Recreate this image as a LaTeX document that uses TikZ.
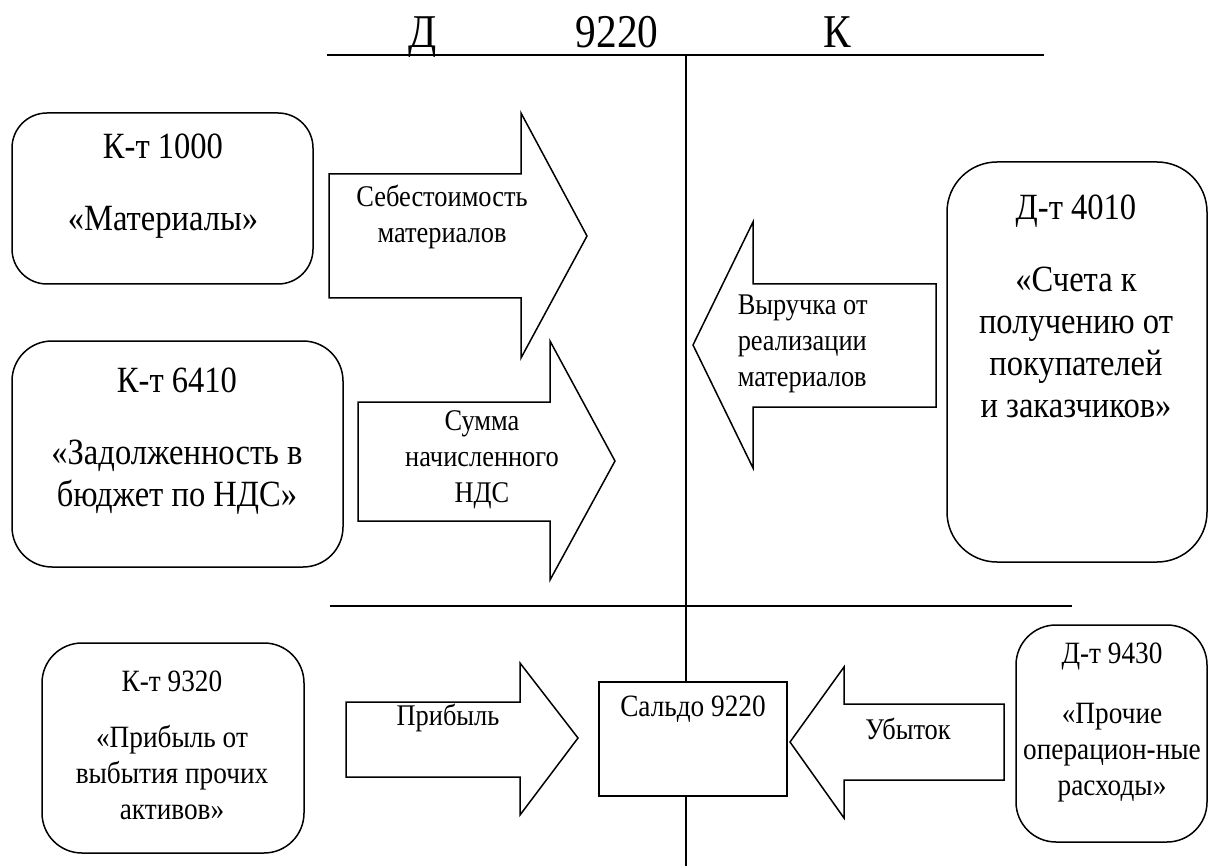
\documentclass[tikz,border=0pt]{standalone}
\usepackage{fontspec}
\setmainfont[FakeStretch=0.88]{Liberation Serif}
\begin{document}
\begin{tikzpicture}[x=1pt,y=-1pt,line width=1.5pt,line join=miter,
  acct/.style={draw,inner sep=0pt,outer sep=0pt},
  bigtxt/.style={align=center,inner sep=0pt,font=\fontsize{37}{42}\selectfont},
  smalltxt/.style={align=center,inner sep=0pt,font=\fontsize{31}{36}\selectfont},
  arrtxt/.style={align=center,inner sep=0pt,font=\fontsize{30}{36}\selectfont},
  headtxt/.style={anchor=base,inner sep=0pt,font=\fontsize{47}{52}\selectfont},
  blockarrow/.style={draw,fill=white}]
\useasboundingbox (0,0) rectangle (1209,866);

% T-account lines
\coordinate (topL) at (327,55);
\coordinate (topR) at (1044,55);
\coordinate (midL) at (330,606);
\coordinate (midR) at (1072,606);
\coordinate (axisTop) at (686,55);
\coordinate (axisBot) at (686,866);
\draw (topL) -- (topR);
\draw (midL) -- (midR);
\draw (axisTop) -- (axisBot);

\node[headtxt] (debit) at (423,48) {Д};
\node[headtxt] (accno) at (617,48) {9220};
\node[headtxt] (credit) at (837,48) {К};

% account boxes
\node[acct,rounded corners=35pt,minimum width=301pt,minimum height=171pt] (k1000) at (162.5,198.5) {};
\node[bigtxt] (k1000t) at (163,186) {К-т 1000\\[30pt]«Материалы»};

\node[acct,rounded corners=40pt,minimum width=331pt,minimum height=226pt] (k6410) at (177.5,454) {};
\node[bigtxt] (k6410t) at (177,441) {К-т 6410\\[30pt]«Задолженность в\\бюджет по НДС»};

\node[acct,rounded corners=50pt,minimum width=260pt,minimum height=400pt] (d4010) at (1077,362) {};
\node[bigtxt] (d4010t) at (1076,306) {Д-т 4010\\[30pt]«Счета к\\получению от\\покупателей\\и заказчиков»};

\node[acct,rounded corners=40pt,minimum width=262pt,minimum height=210pt] (k9320) at (173,748) {};
\node[smalltxt] (k9320t) at (172,745) {К-т 9320\\[20pt]«Прибыль от\\выбытия прочих\\активов»};

\node[acct,rounded corners=40pt,minimum width=191pt,minimum height=217pt] (d9430) at (1111.5,733.5) {};
\node[smalltxt] (d9430t) at (1112,722) {Д-т 9430\\[24pt]«Прочие\\операцион-ные\\расходы»};

\node[acct,fill=white,minimum width=188pt,minimum height=114pt] (saldo) at (693,739) {};
\node[smalltxt] (saldot) at (693,709) {Сальдо 9220};

% block arrows
\draw[blockarrow] (329,174) -- (521,174) -- (521,113) -- (587,236) -- (521,358) -- (521,298) -- (329,298) -- cycle;
\node[arrtxt] (a1t) at (442,217) {Себестоимость\\материалов};

\draw[blockarrow] (358,402) -- (550,402) -- (550,341) -- (615,461) -- (550,580) -- (550,521) -- (358,521) -- cycle;
\node[arrtxt] (a2t) at (482,460) {Сумма\\начисленного\\НДС};

\draw[blockarrow] (693,345) -- (753,222) -- (753,284) -- (936,284) -- (936,407) -- (753,407) -- (753,468) -- cycle;
\node[arrtxt,align=left,anchor=west] (a3t) at (737,344) {Выручка от\\реализации\\материалов};

\draw[blockarrow] (346,702) -- (520,702) -- (520,663) -- (578,738) -- (520,815) -- (520,777) -- (346,777) -- cycle;
\node[arrtxt] (a4t) at (448,718) {Прибыль};

\draw[blockarrow] (790,742) -- (844,667) -- (844,704) -- (1004,704) -- (1004,780) -- (844,780) -- (844,818) -- cycle;
\node[arrtxt] (a5t) at (908,729) {Убыток};
\end{tikzpicture}
\end{document}
